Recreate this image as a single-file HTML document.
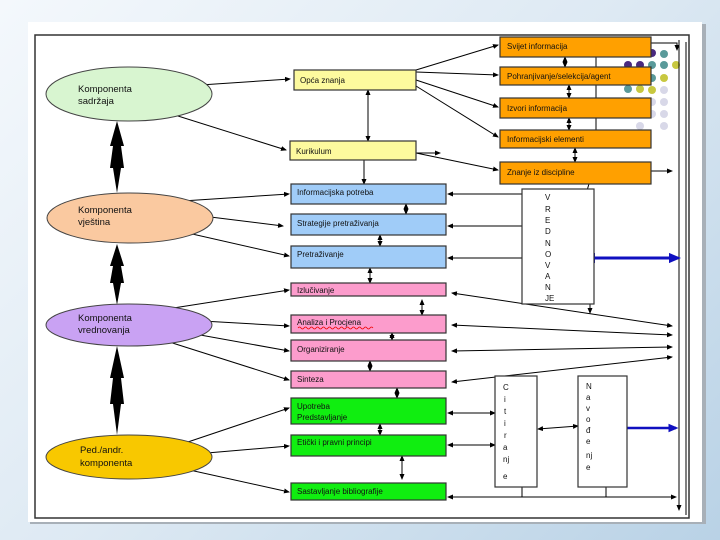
<!DOCTYPE html>
<html><head><meta charset="utf-8"><style>
body{margin:0;width:720px;height:540px;overflow:hidden;background:linear-gradient(135deg,#f4f8fc 0%,#dde9f3 50%,#b9d2e6 100%);font-family:"Liberation Sans",sans-serif}
svg{position:absolute;left:0;top:0}
text{font-family:"Liberation Sans",sans-serif;font-size:8px;fill:#111}
.t{font-size:9.5px}
</style></head><body>
<svg width="720" height="540" viewBox="0 0 720 540">
<defs>
<marker id="a" markerWidth="6" markerHeight="6" refX="5" refY="3" orient="auto"><path d="M0,0.5 L6,3 L0,5.5z" fill="#000"/></marker>
<marker id="s" markerWidth="6" markerHeight="6" refX="1" refY="3" orient="auto"><path d="M6,0.5 L0,3 L6,5.5z" fill="#000"/></marker>
<marker id="b" markerWidth="4" markerHeight="4" refX="3" refY="2" orient="auto"><path d="M0,0.3 L4,2 L0,3.7z" fill="#1010c0"/></marker>
<marker id="bs" markerWidth="4" markerHeight="4" refX="1" refY="2" orient="auto"><path d="M4,0.3 L0,2 L4,3.7z" fill="#1010c0"/></marker>
</defs>
<rect x="30" y="24" width="676" height="500" fill="#a8b0b8"/>
<rect x="28" y="22" width="674" height="500" fill="#fff"/>
<rect x="35" y="35" width="654" height="483" fill="none" stroke="#333" stroke-width="1.5"/>
<g>
<circle cx="628" cy="53" r="4" fill="#4a2a80"/><circle cx="640" cy="53" r="4" fill="#4a2a80"/><circle cx="652" cy="53" r="4" fill="#4a2a80"/><circle cx="664" cy="54" r="4" fill="#5a9a9a"/>
<circle cx="628" cy="65" r="4" fill="#4a2a80"/><circle cx="640" cy="65" r="4" fill="#4a2a80"/><circle cx="652" cy="65" r="4" fill="#5a9a9a"/><circle cx="664" cy="65" r="4" fill="#5a9a9a"/><circle cx="676" cy="65" r="4" fill="#c8c840"/>
<circle cx="628" cy="77" r="4" fill="#5a9a9a"/><circle cx="640" cy="77" r="4" fill="#5a9a9a"/><circle cx="652" cy="78" r="4" fill="#5a9a9a"/><circle cx="664" cy="78" r="4" fill="#c8c840"/>
<circle cx="628" cy="89" r="4" fill="#5a9a9a"/><circle cx="640" cy="89" r="4" fill="#c8c840"/><circle cx="652" cy="90" r="4" fill="#c8c840"/><circle cx="664" cy="90" r="4" fill="#d8d8e8"/>
<circle cx="652" cy="102" r="4" fill="#d8d8e8"/><circle cx="664" cy="102" r="4" fill="#d8d8e8"/><circle cx="652" cy="114" r="4" fill="#d8d8e8"/><circle cx="664" cy="114" r="4" fill="#d8d8e8"/><circle cx="640" cy="126" r="4" fill="#d8d8e8"/><circle cx="664" cy="126" r="4" fill="#d8d8e8"/>
</g>
<g stroke="#000" stroke-width="1" fill="none">
<line x1="679" y1="40" x2="679" y2="510" marker-end="url(#a)"/>
<line x1="686" y1="42" x2="686" y2="515"/>
<polyline points="651,43 677,43 677,50" marker-end="url(#a)"/>
<line x1="651" y1="171" x2="672" y2="171" marker-end="url(#a)"/>
<line x1="596" y1="57" x2="596" y2="130"/>
<line x1="565" y1="57" x2="565" y2="67" marker-start="url(#s)" marker-end="url(#a)"/>
<line x1="569" y1="85" x2="569" y2="98" marker-start="url(#s)" marker-end="url(#a)"/>
<line x1="569" y1="118" x2="569" y2="130" marker-start="url(#s)" marker-end="url(#a)"/>
<line x1="575" y1="148" x2="575" y2="162" marker-start="url(#s)" marker-end="url(#a)"/>
<line x1="591" y1="177" x2="586" y2="194" marker-start="url(#s)"/>
<line x1="416" y1="70" x2="498" y2="45" marker-end="url(#a)"/>
<line x1="416" y1="72" x2="498" y2="75" marker-end="url(#a)"/>
<line x1="416" y1="80" x2="498" y2="107" marker-end="url(#a)"/>
<line x1="416" y1="86" x2="498" y2="137" marker-end="url(#a)"/>
<line x1="416" y1="153" x2="498" y2="170" marker-end="url(#a)"/>
<line x1="368" y1="90" x2="368" y2="141" marker-start="url(#s)" marker-end="url(#a)"/>
<line x1="416" y1="153" x2="440" y2="153" marker-end="url(#a)"/>
<line x1="364" y1="160" x2="364" y2="184" marker-end="url(#a)"/>
<line x1="140" y1="89" x2="290" y2="79" marker-end="url(#a)"/>
<line x1="143" y1="105" x2="286" y2="150" marker-end="url(#a)"/>
<line x1="167" y1="202" x2="289" y2="194" marker-end="url(#a)"/>
<line x1="178" y1="213" x2="283" y2="226" marker-end="url(#a)"/>
<line x1="157" y1="226" x2="289" y2="256" marker-end="url(#a)"/>
<line x1="167" y1="309" x2="289" y2="290" marker-end="url(#a)"/>
<line x1="167" y1="319" x2="289" y2="326" marker-end="url(#a)"/>
<line x1="167" y1="329" x2="289" y2="351" marker-end="url(#a)"/>
<line x1="163" y1="340" x2="289" y2="380" marker-end="url(#a)"/>
<line x1="167" y1="449" x2="289" y2="408" marker-end="url(#a)"/>
<line x1="172" y1="456" x2="289" y2="446" marker-end="url(#a)"/>
<line x1="167" y1="465" x2="289" y2="492" marker-end="url(#a)"/>
<line x1="406" y1="204" x2="406" y2="214" marker-start="url(#s)" marker-end="url(#a)"/>
<line x1="380" y1="235" x2="380" y2="246" marker-start="url(#s)" marker-end="url(#a)"/>
<line x1="370" y1="268" x2="370" y2="283" marker-start="url(#s)" marker-end="url(#a)"/>
<line x1="422" y1="300" x2="422" y2="315" marker-start="url(#s)" marker-end="url(#a)"/>
<line x1="392" y1="333" x2="392" y2="340" marker-start="url(#s)" marker-end="url(#a)"/>
<line x1="370" y1="361" x2="370" y2="371" marker-start="url(#s)" marker-end="url(#a)"/>
<line x1="397" y1="388" x2="397" y2="398" marker-start="url(#s)" marker-end="url(#a)"/>
<line x1="380" y1="424" x2="380" y2="435" marker-start="url(#s)" marker-end="url(#a)"/>
<line x1="402" y1="456" x2="402" y2="479" marker-start="url(#s)" marker-end="url(#a)"/>
<line x1="448" y1="194" x2="522" y2="194" marker-start="url(#s)"/>
<line x1="448" y1="226" x2="522" y2="226" marker-start="url(#s)"/>
<line x1="448" y1="258" x2="522" y2="258" marker-start="url(#s)"/>
<line x1="590" y1="296" x2="590" y2="313" marker-start="url(#s)" marker-end="url(#a)"/>
<line x1="452" y1="293" x2="672" y2="326" marker-start="url(#s)" marker-end="url(#a)"/>
<line x1="452" y1="325" x2="672" y2="335" marker-start="url(#s)" marker-end="url(#a)"/>
<line x1="452" y1="351" x2="672" y2="347" marker-start="url(#s)" marker-end="url(#a)"/>
<line x1="452" y1="382" x2="672" y2="357" marker-start="url(#s)" marker-end="url(#a)"/>
<line x1="448" y1="413" x2="495" y2="413" marker-start="url(#s)" marker-end="url(#a)"/>
<line x1="448" y1="445" x2="495" y2="445" marker-start="url(#s)" marker-end="url(#a)"/>
<line x1="538" y1="429" x2="578" y2="426" marker-start="url(#s)" marker-end="url(#a)"/>
<line x1="448" y1="497" x2="676" y2="497" marker-start="url(#s)" marker-end="url(#a)"/>
<line x1="522" y1="487" x2="522" y2="497"/>
<line x1="606" y1="487" x2="606" y2="497"/>
</g>
<line x1="586" y1="258" x2="678" y2="258" stroke="#1010c0" stroke-width="3" marker-start="url(#bs)" marker-end="url(#b)"/>
<line x1="606" y1="428" x2="676" y2="428" stroke="#1010c0" stroke-width="2.5" marker-start="url(#bs)" marker-end="url(#b)"/>
<g fill="#000">
<path d="M117,121 L124,146 L121,146 L124,168 L121,168 L117,193 L113,168 L110,168 L113,146 L110,146Z"/>
<path d="M117,244 L124,266 L121,266 L124,283 L121,283 L117,305 L113,283 L110,283 L113,266 L110,266Z"/>
<path d="M117,346 L124,378 L121,378 L124,404 L121,404 L117,435 L113,404 L110,404 L113,378 L110,378Z"/>
</g>
<g stroke="#444" stroke-width="1">
<ellipse cx="129" cy="94" rx="83" ry="27" fill="#d8f5d0"/>
<ellipse cx="130" cy="218" rx="83" ry="25" fill="#fac9a0"/>
<ellipse cx="129" cy="325" rx="83" ry="21" fill="#c9a2f3"/>
<ellipse cx="129" cy="457" rx="83" ry="22" fill="#f8c800"/>
</g>
<text class="t" x="78" y="92">Komponenta</text><text class="t" x="78" y="104">sadržaja</text>
<text class="t" x="78" y="213">Komponenta</text><text class="t" x="78" y="225">vještina</text>
<text class="t" x="78" y="321">Komponenta</text><text class="t" x="78" y="333">vrednovanja</text>
<text class="t" x="80" y="453">Ped./andr.</text><text class="t" x="80" y="466">komponenta</text>
<g stroke="#333" stroke-width="1.2">
<rect x="294" y="70" width="122" height="20" fill="#fdfa9e"/>
<rect x="290" y="141" width="126" height="19" fill="#fdfa9e"/>
<rect x="500" y="37" width="151" height="20" fill="#ffa000"/>
<rect x="500" y="67" width="151" height="18" fill="#ffa000"/>
<rect x="500" y="98" width="151" height="20" fill="#ffa000"/>
<rect x="500" y="130" width="151" height="18" fill="#ffa000"/>
<rect x="500" y="162" width="151" height="22" fill="#ffa000"/>
<rect x="291" y="184" width="155" height="20" fill="#a0ccf8"/>
<rect x="291" y="214" width="155" height="21" fill="#a0ccf8"/>
<rect x="291" y="246" width="155" height="22" fill="#a0ccf8"/>
<rect x="291" y="283" width="155" height="13" fill="#fc9ccc"/>
<rect x="291" y="315" width="155" height="18" fill="#fc9ccc"/>
<rect x="291" y="340" width="155" height="21" fill="#fc9ccc"/>
<rect x="291" y="371" width="155" height="17" fill="#fc9ccc"/>
<rect x="291" y="398" width="155" height="26" fill="#10ee10"/>
<rect x="291" y="435" width="155" height="21" fill="#10ee10"/>
<rect x="291" y="483" width="155" height="17" fill="#10ee10"/>
<rect x="522" y="189" width="72" height="115" fill="#fff"/>
<rect x="495" y="376" width="42" height="111" fill="#fff"/>
<rect x="578" y="376" width="49" height="111" fill="#fff"/>
</g>
<text x="300" y="83">Opća znanja</text>
<text x="296" y="154">Kurikulum</text>
<text x="507" y="49">Svijet informacija</text>
<text x="507" y="79">Pohranjivanje/selekcija/agent</text>
<text x="507" y="111">Izvori informacija</text>
<text x="507" y="142">Informacijski      elementi</text>
<text x="507" y="175">Znanje iz discipline</text>
<text x="297" y="195">Informacijska potreba</text>
<text x="297" y="226">Strategije pretraživanja</text>
<text x="297" y="257">Pretraživanje</text>
<text x="297" y="293">Izlučivanje</text>
<text x="297" y="325">Analiza i Procjena</text>
<path d="M298,328 q1.5,-2 3,0 t3,0 t3,0 t3,0 t3,0 t3,0 t3,0 t3,0 t3,0 t3,0 t3,0 t3,0 t3,0 t3,0 t3,0 t3,0 t3,0 t3,0 t3,0 t3,0 t3,0 t3,0 t3,0 t3,0 t3,0" fill="none" stroke="#e00" stroke-width="0.8"/>
<text x="297" y="352">Organiziranje</text>
<text x="297" y="382">Sinteza</text>
<text x="297" y="409">Upotreba</text><text x="297" y="420">Predstavljanje</text>
<text x="297" y="445">Etički i pravni principi</text>
<text x="297" y="494">Sastavljanje bibliografije</text>
<g font-size="8">
<text x="545" y="200">V</text><text x="545" y="212">R</text><text x="545" y="223">E</text><text x="545" y="234">D</text><text x="545" y="246">N</text><text x="545" y="257">O</text><text x="545" y="268">V</text><text x="545" y="279">A</text><text x="545" y="290">N</text><text x="545" y="301">JE</text>
</g>
<g style="font-size:9px">
<text x="503" y="390">C</text><text x="504" y="402">i</text><text x="504" y="414">t</text><text x="504" y="426">i</text><text x="504" y="438">r</text><text x="503" y="450">a</text><text x="503" y="462">nj</text><text x="503" y="479">e</text>
<text x="586" y="389">N</text><text x="586" y="400">a</text><text x="586" y="411">v</text><text x="586" y="422">o</text><text x="586" y="433">đ</text><text x="586" y="444">e</text><text x="586" y="458">nj</text><text x="586" y="470">e</text>
</g>
</svg>
</body></html>
